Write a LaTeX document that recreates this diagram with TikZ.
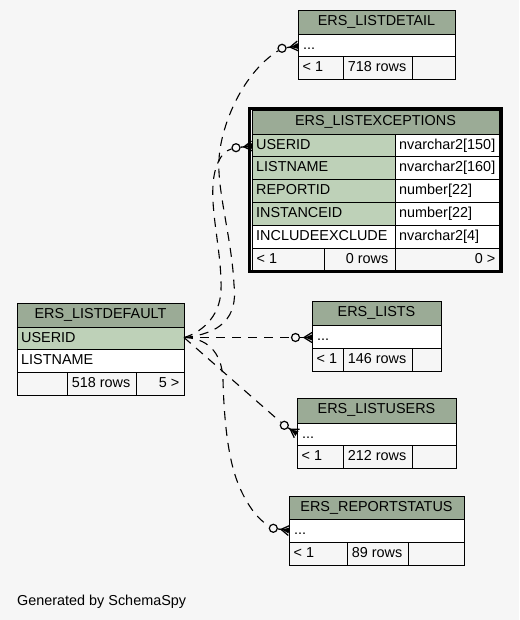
\documentclass[tikz,border=0pt]{standalone}
\usepackage{fontspec}
\setmainfont{Liberation Sans}
\usetikzlibrary{calc}
\definecolor{bg}{HTML}{F6F6F6}
\definecolor{hdr}{HTML}{9BAB96}
\definecolor{keyc}{HTML}{BED1B8}
\newcommand\mkcell[6]{\node[cellbox,fill=#6,minimum width={#4-#2},minimum height={#5-#3}] (#1) at (#2,#3) {};}
\newcommand\crowto[2]{%
  \draw[crowline] (#1) -- (#2);
  \draw[crowline] ($(#2)!5pt!90:(#1)$) -- ($(#2)!8pt!(#1)$) -- ($(#2)!5pt!-90:(#1)$);
  \fill ($(#2)!3pt!90:(#1)$) -- ($(#2)!7pt!(#1)$) -- ($(#2)!3pt!-90:(#1)$) -- cycle;}
\begin{document}
\begin{tikzpicture}[x=1pt,y=-1pt,
  cellbox/.style={draw=black,line width=1pt,anchor=north west,inner sep=0pt,outer sep=0pt,rectangle},
  txt/.style={inner sep=0pt,font=\fontsize{14.4}{16}\selectfont},
  txtl/.style={txt,anchor=base west},
  txtr/.style={txt,anchor=base east},
  txtc/.style={txt,anchor=base},
  reledge/.style={dash pattern=on 9pt off 7pt,line width=1.1pt},
  crowline/.style={line width=1.3pt},
  optcirc/.style={circle,draw,line width=1.2pt,fill=bg,minimum size=8pt,inner sep=0pt}]
\fill[bg] (0,0) rectangle (519,620);
\useasboundingbox (0,0) rectangle (519,620);

% ERS_LISTDETAIL
\mkcell{det-h}{298}{11}{455}{35}{hdr}
\mkcell{det-r}{298}{35}{455}{57}{white}
\mkcell{det-f1}{298}{57}{343}{80}{bg}
\mkcell{det-f2}{343}{57}{412}{80}{bg}
\mkcell{det-f3}{412}{57}{455}{80}{bg}
\node[txtc] at ($(det-h.north)+(0,15)$) {ERS\_LISTDETAIL};
\node[txtl] at ($(det-r.north west)+(5,15)$) {...};
\node[txtl] at ($(det-f1.north west)+(4.5,15)$) {< 1};
\node[txtr] at ($(det-f2.north east)+(-5.5,15)$) {718 rows};

% ERS_LISTEXCEPTIONS
\draw[line width=3pt] (249.8,108.8) rectangle (501.2,271.8);
\mkcell{exc-h}{252}{111}{499}{135}{hdr}
\mkcell{exc-k1}{252}{135}{395}{157}{keyc}
\mkcell{exc-t1}{395}{135}{499}{157}{white}
\mkcell{exc-k2}{252}{157}{395}{180}{keyc}
\mkcell{exc-t2}{395}{157}{499}{180}{white}
\mkcell{exc-k3}{252}{180}{395}{203}{keyc}
\mkcell{exc-t3}{395}{180}{499}{203}{white}
\mkcell{exc-k4}{252}{203}{395}{225}{keyc}
\mkcell{exc-t4}{395}{203}{499}{225}{white}
\mkcell{exc-k5}{252}{225}{395}{248}{white}
\mkcell{exc-t5}{395}{225}{499}{248}{white}
\mkcell{exc-f1}{252}{248}{324}{270}{bg}
\mkcell{exc-f2}{324}{248}{395}{270}{bg}
\mkcell{exc-f3}{395}{248}{499}{270}{bg}
\node[txtc] at ($(exc-h.north)+(0,15)$) {ERS\_LISTEXCEPTIONS};
\node[txtl] at ($(exc-k1.north west)+(4,15)$) {USERID};
\node[txtl] at ($(exc-k2.north west)+(4,15)$) {LISTNAME};
\node[txtl] at ($(exc-k3.north west)+(4,15)$) {REPORTID};
\node[txtl] at ($(exc-k4.north west)+(4,15)$) {INSTANCEID};
\node[txtl] at ($(exc-k5.north west)+(4,15)$) {INCLUDEEXCLUDE};
\node[txtl] at ($(exc-t1.north west)+(4,15)$) {nvarchar2[150]};
\node[txtl] at ($(exc-t2.north west)+(4,15)$) {nvarchar2[160]};
\node[txtl] at ($(exc-t3.north west)+(4,15)$) {number[22]};
\node[txtl] at ($(exc-t4.north west)+(4,15)$) {number[22]};
\node[txtl] at ($(exc-t5.north west)+(4,15)$) {nvarchar2[4]};
\node[txtl] at ($(exc-f1.north west)+(4.5,15)$) {< 1};
\node[txtr] at ($(exc-f2.north east)+(-6.5,15)$) {0 rows};
\node[txtr] at ($(exc-f3.north east)+(-3.5,15)$) {0 >};

% ERS_LISTDEFAULT
\mkcell{def-h}{17}{303}{184}{327}{hdr}
\mkcell{def-r1}{17}{327}{184}{349}{keyc}
\mkcell{def-r2}{17}{349}{184}{372}{white}
\mkcell{def-f1}{17}{372}{67}{395}{bg}
\mkcell{def-f2}{67}{372}{136}{395}{bg}
\mkcell{def-f3}{136}{372}{184}{395}{bg}
\node[txtc] at ($(def-h.north)+(0,15)$) {ERS\_LISTDEFAULT};
\node[txtl] at ($(def-r1.north west)+(4,15)$) {USERID};
\node[txtl] at ($(def-r2.north west)+(4,15)$) {LISTNAME};
\node[txtr] at ($(def-f2.north east)+(-5.5,15)$) {518 rows};
\node[txtr] at ($(def-f3.north east)+(-4.5,15)$) {5 >};

% ERS_LISTS
\mkcell{lst-h}{312}{301}{441}{325}{hdr}
\mkcell{lst-r}{312}{325}{441}{348}{white}
\mkcell{lst-f1}{312}{348}{343}{371}{bg}
\mkcell{lst-f2}{343}{348}{412}{371}{bg}
\mkcell{lst-f3}{412}{348}{441}{371}{bg}
\node[txtc] at ($(lst-h.north)+(0,15)$) {ERS\_LISTS};
\node[txtl] at ($(lst-r.north west)+(5,15)$) {...};
\node[txtl] at ($(lst-f1.north west)+(4.5,15)$) {< 1};
\node[txtr] at ($(lst-f2.north east)+(-5.5,15)$) {146 rows};

% ERS_LISTUSERS
\mkcell{usr-h}{297}{398}{456}{423}{hdr}
\mkcell{usr-r}{297}{423}{456}{445}{white}
\mkcell{usr-f1}{297}{445}{343}{468}{bg}
\mkcell{usr-f2}{343}{445}{412}{468}{bg}
\mkcell{usr-f3}{412}{445}{456}{468}{bg}
\node[txtc] at ($(usr-h.north)+(0,15.5)$) {ERS\_LISTUSERS};
\node[txtl] at ($(usr-r.north west)+(5,15)$) {...};
\node[txtl] at ($(usr-f1.north west)+(4.5,15)$) {< 1};
\node[txtr] at ($(usr-f2.north east)+(-5.5,15)$) {212 rows};

% ERS_REPORTSTATUS
\mkcell{rep-h}{289}{496}{464}{519}{hdr}
\mkcell{rep-r}{289}{519}{464}{542}{white}
\mkcell{rep-f1}{289}{542}{347}{565}{bg}
\mkcell{rep-f2}{347}{542}{408}{565}{bg}
\mkcell{rep-f3}{408}{542}{464}{565}{bg}
\node[txtc] at ($(rep-h.north)+(0,15)$) {ERS\_REPORTSTATUS};
\node[txtl] at ($(rep-r.north west)+(5,15)$) {...};
\node[txtl] at ($(rep-f1.north west)+(4.5,15)$) {< 1};
\node[txtr] at ($(rep-f2.north east)+(-5.5,15)$) {89 rows};

% footer text
\node[txtl] (gen) at (17,605) {Generated by SchemaSpy};

% relationships
\coordinate (src) at ($(def-r1.east)+(0,-0.5)$);
\coordinate (t1) at (det-r.west);
\coordinate (t2) at (exc-k1.west);
\coordinate (t3) at ($(lst-r.west)+(0,1)$);
\coordinate (t4) at ($(usr-r.west)+(0,-0.5)$);
\coordinate (t5) at (rep-r.west);
\node[optcirc] (o1) at ($(t1)+(-16,2.3)$) {};
\node[optcirc] (o2) at ($(t2)+(-16,1.7)$) {};
\node[optcirc] (o3) at ($(t3)+(-16.5,0)$) {};
\node[optcirc] (o4) at ($(t4)+(-12.7,-8.2)$) {};
\node[optcirc] (o5) at ($(t5)+(-15.7,-2.2)$) {};

\draw[reledge] (src) .. controls (220,334) and (238,318) .. (234,285)
  .. controls (232,240) and (217,190) .. (219,160)
  .. controls (220,130) and (240,75) .. (o1);
\draw[reledge] (src) .. controls (200,333) and (220,318) .. (221,290)
  .. controls (222,255) and (211,215) .. (213,185)
  .. controls (214,168) and (220,152) .. (o2);
\draw[reledge] (src) -- (o3);
\draw[reledge] (src) -- (o4);
\draw[reledge] (src) .. controls (205,338) and (222,350) .. (223,380)
  .. controls (224,420) and (228,455) .. (236,478)
  .. controls (243,498) and (255,518) .. (o5);

\crowto{o1}{t1}
\crowto{o2}{t2}
\crowto{o3}{t3}
\crowto{o4}{t4}
\crowto{o5}{t5}
\end{tikzpicture}
\end{document}
